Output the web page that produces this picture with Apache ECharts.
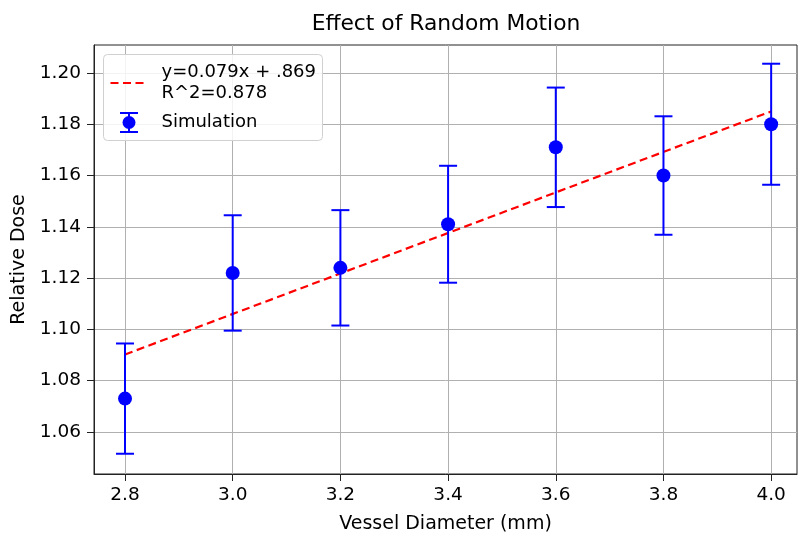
<!DOCTYPE html>
<html>
<head>
<meta charset="utf-8">
<script src="https://cdn.jsdelivr.net/npm/echarts@6/dist/echarts.min.js"></script>
<style>
  html, body { margin: 0; padding: 0; background: #fff; }
  #chart { width: 799px; height: 534px; }
</style>
</head>
<body>
<div id="chart"></div>
<script>
// Vessel diameters (mm) and simulated relative dose with ± error
const diameters = [2.8, 3.0, 3.2, 3.4, 3.6, 3.8, 4.0];
const doseMean = [1.073, 1.122, 1.124, 1.141, 1.171, 1.160, 1.180];
const doseErr = [0.0215, 0.0225, 0.0225, 0.0228, 0.0233, 0.0231, 0.0236];

// Linear fit reported in the legend
const fitSlope = 0.079;
const fitIntercept = 0.869;
const fitLines = ['y=0.079x + .869', 'R^2=0.878'];
const simLabel = 'Simulation';

const xTicks = [2.8, 3.0, 3.2, 3.4, 3.6, 3.8, 4.0];
const yTicks = [1.06, 1.08, 1.10, 1.12, 1.14, 1.16, 1.18, 1.20];

const FONT = 'DejaVu Sans';
const TEXT = '#000';
const BLUE = '#0000ff';
const RED = '#ff0000';

const fitData = [diameters[0], diameters[diameters.length - 1]].map(x => [x, fitSlope * x + fitIntercept]);
const pointData = diameters.map((x, i) => [x, doseMean[i]]);
const barData = diameters.map((x, i) => [x, doseMean[i] - doseErr[i], doseMean[i] + doseErr[i]]);

const chart = echarts.init(document.getElementById('chart'), null, { renderer: 'canvas' });

const axisCommon = {
  axisLine: { show: true, lineStyle: { color: '#222', width: 1 } },
  axisTick: { show: true, length: 7, inside: false, lineStyle: { color: '#222' } },
  splitLine: { show: true, lineStyle: { color: '#b0b0b0', width: 1 } },
  axisLabel: { color: TEXT, fontFamily: FONT, fontSize: 18.5 },
  nameTextStyle: { color: TEXT, fontFamily: FONT, fontSize: 19 }
};

// Legend box drawn as graphic elements (dashed fit line, error-bar glyph)
const LZ = 100;
const legendFont = '18px "' + FONT + '"';
const blueStroke = { stroke: BLUE, lineWidth: 2 };
const legendGroup = {
  type: 'group',
  left: 103, top: 54,
  z: LZ,
  children: [
    { type: 'rect', z: LZ, shape: { x: 0, y: 0, width: 219, height: 86, r: 4 },
      style: { fill: 'rgba(255,255,255,0.85)', stroke: '#d0d0d0', lineWidth: 1 } },
    { type: 'line', z: LZ + 1, shape: { x1: 7, y1: 28.5, x2: 44, y2: 28.5 },
      style: { stroke: RED, lineWidth: 2.2, lineDash: [8, 4.5] } },
    { type: 'text', z: LZ + 1, x: 58, y: 17.5,
      style: { text: fitLines[0], font: legendFont, fill: TEXT, verticalAlign: 'middle' } },
    { type: 'text', z: LZ + 1, x: 58, y: 39,
      style: { text: fitLines[1], font: legendFont, fill: TEXT, verticalAlign: 'middle' } },
    { type: 'line', z: LZ + 1, shape: { x1: 25.5, y1: 58.5, x2: 25.5, y2: 77.5 }, style: blueStroke },
    { type: 'line', z: LZ + 1, shape: { x1: 16.5, y1: 58.5, x2: 34.5, y2: 58.5 }, style: blueStroke },
    { type: 'line', z: LZ + 1, shape: { x1: 16.5, y1: 77.5, x2: 34.5, y2: 77.5 }, style: blueStroke },
    { type: 'circle', z: LZ + 1, shape: { cx: 25.5, cy: 68, r: 6.5 }, style: { fill: BLUE } },
    { type: 'text', z: LZ + 1, x: 58, y: 68,
      style: { text: simLabel, font: legendFont, fill: TEXT, verticalAlign: 'middle' } }
  ]
};

chart.setOption({
  animation: false,
  backgroundColor: '#fff',
  title: {
    text: 'Effect of Random Motion',
    left: 441, top: 8, textAlign: 'center',
    textStyle: { fontFamily: FONT, fontSize: 21.8, fontWeight: 'normal', color: TEXT }
  },
  grid: {
    left: 94, right: 2, top: 45, bottom: 60,
    outerBoundsMode: 'none', containLabel: false,
    show: true, borderColor: '#222', borderWidth: 1, backgroundColor: 'transparent'
  },
  graphic: [legendGroup],
  xAxis: Object.assign({}, axisCommon, {
    type: 'value',
    min: 2.7424, max: 4.048,
    name: 'Vessel Diameter (mm)', nameLocation: 'middle', nameGap: 41,
    axisTick: Object.assign({}, axisCommon.axisTick, { customValues: xTicks }),
    axisLabel: Object.assign({}, axisCommon.axisLabel, {
      customValues: xTicks, margin: 12, formatter: v => v.toFixed(1)
    })
  }),
  yAxis: Object.assign({}, axisCommon, {
    type: 'value',
    min: 1.0436, max: 1.2109,
    name: 'Relative Dose', nameLocation: 'middle', nameGap: 56, nameRotate: 90,
    axisTick: Object.assign({}, axisCommon.axisTick, { customValues: yTicks }),
    axisLabel: Object.assign({}, axisCommon.axisLabel, {
      customValues: yTicks, margin: 13, formatter: v => v.toFixed(2)
    })
  }),
  series: [
    {
      name: 'fit',
      type: 'line',
      data: fitData,
      symbol: 'none',
      z: 3,
      lineStyle: { color: RED, width: 2.2, type: [8, 4.5] }
    },
    {
      name: simLabel,
      type: 'custom',
      data: barData,
      z: 4,
      renderItem: (params, api) => {
        const x = api.value(0);
        const lo = api.coord([x, api.value(1)]);
        const hi = api.coord([x, api.value(2)]);
        const half = 9;
        const style = { stroke: BLUE, lineWidth: 2, fill: null };
        return {
          type: 'group',
          children: [
            { type: 'line', shape: { x1: lo[0], y1: lo[1], x2: hi[0], y2: hi[1] }, style },
            { type: 'line', shape: { x1: hi[0] - half, y1: hi[1], x2: hi[0] + half, y2: hi[1] }, style },
            { type: 'line', shape: { x1: lo[0] - half, y1: lo[1], x2: lo[0] + half, y2: lo[1] }, style }
          ]
        };
      }
    },
    {
      name: simLabel,
      type: 'scatter',
      data: pointData,
      symbol: 'circle',
      symbolSize: 14,
      z: 5,
      itemStyle: { color: BLUE, opacity: 1 }
    }
  ]
});
</script>
</body>
</html>
